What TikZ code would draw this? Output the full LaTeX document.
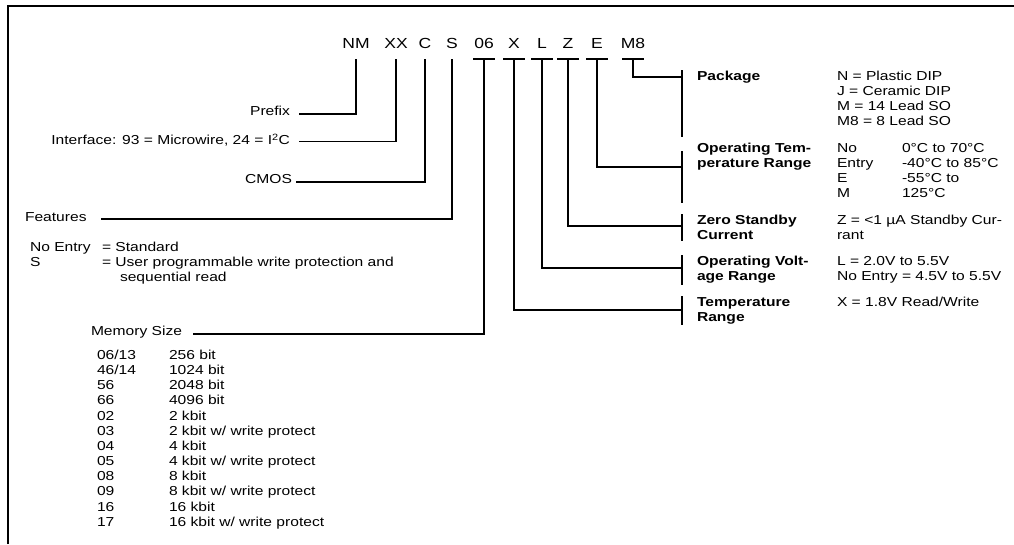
\documentclass[tikz,border=0pt]{standalone}
\usepackage{fontspec}
\setmainfont[FakeStretch=1.2]{Liberation Sans}
\usetikzlibrary{calc}
\begin{document}
\begin{tikzpicture}[x=1pt,y=-1pt,
  lbl/.style={inner sep=0pt,outer sep=0pt,font=\fontsize{13}{15}\selectfont},
  lw/.style={lbl,anchor=base west},
  le/.style={lbl,anchor=base east},
  bl/.style={lw,font=\fontsize{13}{15}\selectfont\bfseries},
  ttl/.style={inner sep=0pt,outer sep=0pt,anchor=base,font=\fontsize{14.6}{16}\selectfont},
  ln/.style={line width=1.5pt},
  brk/.style={line width=1.9pt},
]
\useasboundingbox (0,0) rectangle (1014,544);
\draw[line width=1.3pt] (8,544) -- (8,6) -- (1014,6);

% title
\node[ttl] (tNM) at (356,48) {NM};
\node[ttl] (tXX) at (396,48) {XX};
\node[ttl] (tC)  at (425,48) {C};
\node[ttl] (tS)  at (452,48) {S};
\node[ttl] (t06) at (484,48) {06};
\node[ttl] (tX)  at (514,48) {X};
\node[ttl] (tL)  at (542,48) {L};
\node[ttl] (tZ)  at (568,48) {Z};
\node[ttl] (tE)  at (597,48) {E};
\node[ttl] (tM8) at (633,48) {M8};
\foreach \n in {NM,XX,C,S,06,X,L,Z,E,M8}{\path (t\n.base) ++(0,11) coordinate (v\n);}
\foreach \n in {06,X,L,Z,E,M8}{\draw[ln] ($(v\n)+(-11,0)$) -- ($(v\n)+(11,0)$);}

% left labels
\node[le] (prefix) at (290,115.5) {Prefix};
\node[le] (iface) at (290,144.5) {Interface: 93 = Microwire, 24 = I\textsuperscript{2}C};
\node[le] (cmos) at (292,183.5) {CMOS};
\node[lw] (feat) at (25,221.5) {Features};
\node[lw] (ne) at (30,251.5) {No Entry};
\node[lw] (neS) at (102,251.5) {= Standard};
\node[lw] (sS) at (30,266.5) {S};
\node[lw] (sD) at (102,266.5) {= User programmable write protection and};
\node[lw] (sD2) at (120,281.5) {sequential read};
\node[lw] (mem) at (91,335.5) {Memory Size};

\draw[ln] (vNM) |- ($(prefix.base east)+(9,-1.5)$);
\draw[ln] (vXX) |- ($(iface.base east)+(9,-3)$);
\draw[ln] (vC) |- ($(cmos.base east)+(4,-1.5)$);
\draw[ln] (vS) |- ($(feat.base east)+(14,-2.5)$);
\draw[ln] (v06) |- ($(mem.base east)+(11,-1.5)$);

\foreach \c/\d [count=\i from 0] in {{06/13}/{256 bit},{46/14}/{1024 bit},{56}/{2048 bit},{66}/{4096 bit},{02}/{2 kbit},{03}/{2 kbit w/ write protect},{04}/{4 kbit},{05}/{4 kbit w/ write protect},{08}/{8 kbit},{09}/{8 kbit w/ write protect},{16}/{16 kbit},{17}/{16 kbit w/ write protect}}{
  \node[lw] (mc\i) at (97,359.5+\i*15.15) {\c};
  \node[lw] (md\i) at (169,359.5+\i*15.15) {\d};
}

% right brackets
\coordinate (bPk) at (682,77);
\coordinate (bOT) at (682,167);
\coordinate (bZS) at (682,226);
\coordinate (bOV) at (682,268);
\coordinate (bTR) at (682,310);
\draw[brk] (682,70) -- (682,137);
\draw[brk] (682,151) -- (682,203);
\draw[brk] (682,214) -- (682,241);
\draw[brk] (682,255) -- (682,285);
\draw[brk] (682,296) -- (682,325);
\draw[ln] (vM8) |- (bPk);
\draw[ln] (vE) |- (bOT);
\draw[ln] (vZ) |- (bZS);
\draw[ln] (vL) |- (bOV);
\draw[ln] (vX) |- (bTR);

\node[bl] (pk) at (697,80.5) {Package};
\node[bl] (ot1) at (697,152.5) {Operating Tem-};
\node[bl] (ot2) at (697,167.5) {perature Range};
\node[bl] (zs1) at (697,224.5) {Zero Standby};
\node[bl] (zs2) at (697,239.5) {Current};
\node[bl] (ov1) at (697,265.5) {Operating Volt-};
\node[bl] (ov2) at (697,280.5) {age Range};
\node[bl] (tr1) at (697,306.5) {Temperature};
\node[bl] (tr2) at (697,321.5) {Range};

\node[lw] (p1) at (837,80.5) {N = Plastic DIP};
\node[lw] (p2) at (837,95.5) {J = Ceramic DIP};
\node[lw] (p3) at (837,110.5) {M = 14 Lead SO};
\node[lw] (p4) at (837,125.5) {M8 = 8 Lead SO};
\node[lw] (o1) at (837,152.5) {No};
\node[lw] (o2) at (837,167.5) {Entry};
\node[lw] (o3) at (837,182.5) {E};
\node[lw] (o4) at (837,197.5) {M};
\node[lw] (o1v) at (902,152.5) {0°C to 70°C};
\node[lw] (o2v) at (902,167.5) {-40°C to 85°C};
\node[lw] (o3v) at (902,182.5) {-55°C to};
\node[lw] (o4v) at (902,197.5) {125°C};
\node[lw] (z1) at (837,224.5) {Z = <1 µA Standby Cur-};
\node[lw] (z2) at (837,239.5) {rant};
\node[lw] (v1) at (837,265.5) {L = 2.0V to 5.5V};
\node[lw] (v2) at (837,280.5) {No Entry = 4.5V to 5.5V};
\node[lw] (x1) at (837,306.5) {X = 1.8V Read/Write};
\end{tikzpicture}
\end{document}
